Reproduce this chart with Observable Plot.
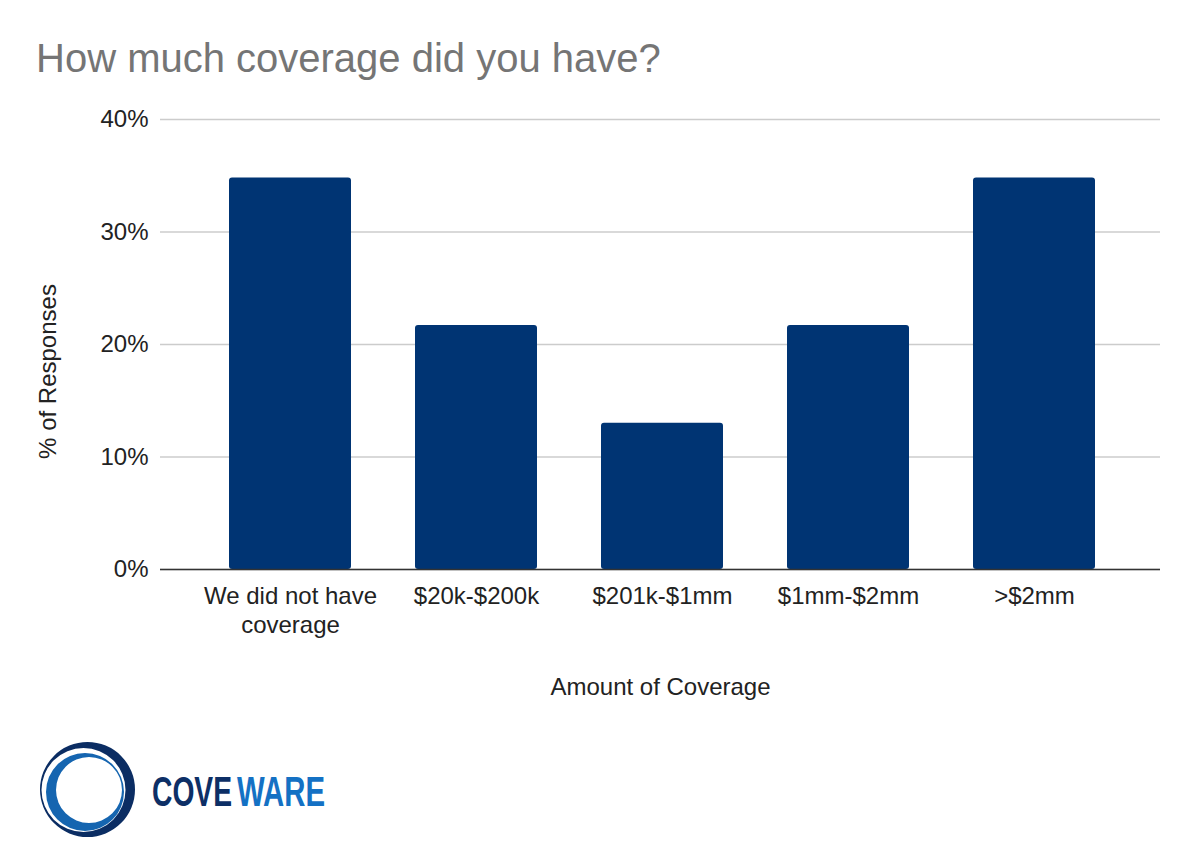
<!DOCTYPE html>
<html>
<head>
<meta charset="utf-8">
<script src="https://cdn.jsdelivr.net/npm/d3@7"></script>
<script src="https://cdn.jsdelivr.net/npm/@observablehq/plot@0.6"></script>
<style>
  html, body { margin: 0; padding: 0; background: #fff; }
  #page { position: relative; width: 1196px; height: 860px; overflow: hidden; background: #fff; font-family: "Liberation Sans", Arial, sans-serif; }
  #title { position: absolute; left: 36px; top: 38px; font-size: 40px; line-height: 40px; color: #757575; white-space: nowrap; }
  #chart { position: absolute; left: 0; top: 100px; }
  #logo { position: absolute; left: 0; top: 730px; }
</style>
</head>
<body>
<div id="page">
  <div id="title">How much coverage did you have?</div>
  <div id="chart"></div>
  <svg id="logo" width="400" height="130" viewBox="0 0 400 130">
    <path fill="#0b2d63" fill-rule="evenodd" d="M40,59.5 a47.5,47.5 0 1,0 95,0 a47.5,47.5 0 1,0 -95,0 Z M41.5,60 a42,42 0 1,0 84,0 a42,42 0 1,0 -84,0 Z"/>
    <path fill="#1565b0" fill-rule="evenodd" d="M46,62 a39,39 0 1,0 78,0 a39,39 0 1,0 -78,0 Z M56,60 a33,33 0 1,0 66,0 a33,33 0 1,0 -66,0 Z"/>
    <g transform="scale(1,1.55)">
      <text x="152" y="49" font-family="Liberation Sans, Arial" font-weight="bold" font-size="27" fill="#0d2f66" textLength="80" lengthAdjust="spacingAndGlyphs">COVE</text>
      <text x="237" y="49" font-family="Liberation Sans, Arial" font-weight="bold" font-size="27" fill="#1471c4" textLength="88" lengthAdjust="spacingAndGlyphs">WARE</text>
    </g>
  </svg>
</div>
<script>
const categories = ["We did not have\ncoverage", "$20k-$200k", "$201k-$1mm", "$1mm-$2mm", ">$2mm"];
const values = [0.348, 0.217, 0.13, 0.217, 0.348];
const yTicks = [0, 0.1, 0.2, 0.3, 0.4];
const yTickLabels = ["0%", "10%", "20%", "30%", "40%"];
const xTitle = "Amount of Coverage";
const yTitle = "% of Responses";

const data = categories.map((c, i) => ({category: c, value: values[i]}));

const chart = Plot.plot({
  width: 1196,
  height: 620,
  marginTop: 19,
  marginBottom: 151,
  marginLeft: 160,
  marginRight: 36,
  style: {fontFamily: "Liberation Sans, Arial, sans-serif", fontSize: "24px", color: "#222", background: "#fff"},
  x: {domain: categories, range: [162, 1162], paddingInner: 0.346, paddingOuter: 0.354},
  y: {domain: [0, 0.4]},
  marks: [
    Plot.gridY(yTicks, {stroke: "#cccccc", strokeOpacity: 1, strokeWidth: 1.5}),
    Plot.barY(data, {x: "category", y: "value", fill: "#003473", rx: 3}),
    Plot.ruleY([0], {stroke: "#333", strokeWidth: 1.5}),
    Plot.axisY(yTicks, {
      tickSize: 0, tickPadding: 12,
      tickFormat: (d) => yTickLabels[yTicks.indexOf(d)],
      label: null,
      fill: "#222"
    }),
    Plot.text([yTitle], {
      frameAnchor: "left", rotate: -90, textAnchor: "middle", lineAnchor: "middle",
      dx: -112, dy: 27, fill: "#222"
    }),
    Plot.axisX({
      tickSize: 0, tickPadding: 14, lineHeight: 1.2,
      label: xTitle, labelAnchor: "center", labelOffset: 125, labelArrow: "none",
      fill: "#222"
    })
  ]
});
document.getElementById("chart").appendChild(chart);
</script>
</body>
</html>
